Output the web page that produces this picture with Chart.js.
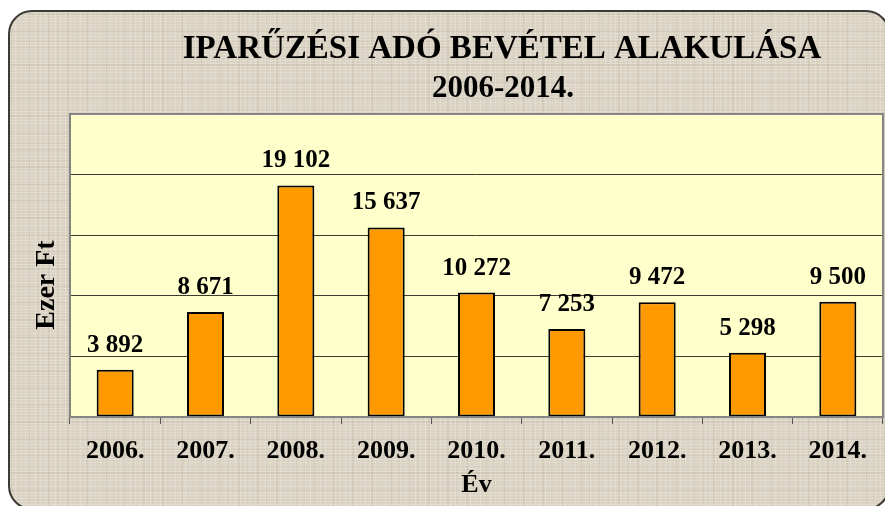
<!DOCTYPE html>
<html>
<head>
<meta charset="utf-8">
<script src="https://cdn.jsdelivr.net/npm/chart.js@4.4.1/dist/chart.umd.min.js"></script>
<style>
  html, body { margin: 0; padding: 0; background: #fff; }
  #wrap { position: relative; width: 885px; height: 506px; overflow: hidden; }
  /* linen-like frame behind the canvas */
  #frame {
    position: absolute; left: 8px; top: 10px; width: 878px; height: 496px;
    border: 2px solid #3c3a36; border-radius: 24px;
    background-color: #dad2c2;
    background-image:
      repeating-linear-gradient(0deg, rgba(255,255,255,0.20) 0 1px, transparent 1px 3px),
      repeating-linear-gradient(90deg, rgba(255,255,255,0.18) 0 1px, transparent 1px 5px),
      repeating-linear-gradient(0deg, rgba(130,115,90,0.09) 0 2px, transparent 2px 7px, rgba(130,115,90,0.06) 7px 8px, transparent 8px 17px),
      repeating-linear-gradient(90deg, rgba(130,115,90,0.09) 0 2px, transparent 2px 9px, rgba(130,115,90,0.06) 9px 10px, transparent 10px 19px);
  }
  canvas { position: absolute; left: 0; top: 0; }
</style>
</head>
<body>
<div id="wrap">
  <div id="frame"></div>
  <canvas id="chart" width="885" height="506"></canvas>
</div>
<script>
const years  = ["2006.", "2007.", "2008.", "2009.", "2010.", "2011.", "2012.", "2013.", "2014."];
const income = [3892, 8671, 19102, 15637, 10272, 7253, 9472, 5298, 9500];
const titleLines = ["IPARŰZÉSI ADÓ BEVÉTEL ALAKULÁSA", "2006-2014."];
const yTitle = "Ezer Ft";

const SERIF = "'Liberation Serif', 'Times New Roman', serif";

// thousands with a space, Hungarian style
function fmt(n) {
  return String(n).replace(/\B(?=(\d{3})+(?!\d))/g, " ");
}

// pale yellow plot area with grey rim
const plotBg = {
  id: "plotBg",
  beforeDraw(chart) {
    const { ctx, chartArea: a } = chart;
    ctx.save();
    ctx.fillStyle = "#ffffcc";
    ctx.fillRect(a.left, a.top, a.right - a.left, a.bottom - a.top);
    ctx.restore();
  },
  afterDatasetsDraw(chart) {
    const { ctx, chartArea: a } = chart;
    ctx.save();
    ctx.strokeStyle = "#858585";
    ctx.lineWidth = 2;
    ctx.strokeRect(a.left, a.top, a.right - a.left, a.bottom - a.top);
    ctx.restore();
  }
};

// value labels above the bars
const valueLabels = {
  id: "valueLabels",
  afterDatasetsDraw(chart) {
    const { ctx } = chart;
    const meta = chart.getDatasetMeta(0);
    ctx.save();
    ctx.font = "bold 25px " + SERIF;
    ctx.fillStyle = "#000";
    ctx.textAlign = "center";
    ctx.textBaseline = "alphabetic";
    meta.data.forEach((bar, i) => {
      ctx.fillText(fmt(income[i]), bar.x, bar.y - 18);
    });
    ctx.restore();
  }
};

// two-line title plus the rotated y title (sits below the plot's middle)
const titleText = {
  id: "titleText",
  afterDraw(chart) {
    const { ctx } = chart;
    ctx.save();
    ctx.fillStyle = "#000";
    ctx.textAlign = "center";
    ctx.textBaseline = "alphabetic";
    ctx.font = "bold 33px " + SERIF;
    ctx.fillText(titleLines[0], 502, 58);
    ctx.font = "bold 31px " + SERIF;
    ctx.fillText(titleLines[1], 503, 97);

    ctx.translate(54, 285);
    ctx.rotate(-Math.PI / 2);
    ctx.font = "bold 28px " + SERIF;
    ctx.fillText(yTitle, 0, 0);
    ctx.restore();
  }
};

new Chart(document.getElementById("chart"), {
  type: "bar",
  data: {
    labels: years,
    datasets: [{
      data: income,
      backgroundColor: "#ff9900",
      borderColor: "#000",
      borderWidth: 2,
      borderSkipped: false,
      barPercentage: 0.41,
      categoryPercentage: 1,
    }]
  },
  options: {
    responsive: false,
    animation: false,
    devicePixelRatio: 1,
    layout: { padding: { left: 10, right: 2, top: 114, bottom: 0 } },
    plugins: {
      legend: { display: false },
      tooltip: { enabled: false },
      title: { display: false },
    },
    scales: {
      x: {
        afterFit: s => { s.height = 89; },
        grid: { drawOnChartArea: false, drawTicks: true, tickLength: 7, color: "#555", offset: true },
        border: { display: false },
        ticks: { color: "#000", font: { family: SERIF, size: 26, weight: "bold" }, padding: 12 },
        title: { display: true, text: "Év", color: "#000", font: { family: SERIF, size: 26, weight: "bold", lineHeight: 1 }, padding: { top: 0, bottom: 8 } },
      },
      y: {
        min: 0,
        max: 25000,
        afterFit: s => { s.width = 60; },
        ticks: { display: false, stepSize: 5000 },
        grid: { color: "#3a3a30", lineWidth: 1, drawTicks: false },
        border: { display: false },
      }
    }
  },
  plugins: [plotBg, valueLabels, titleText]
});
</script>
</body>
</html>
